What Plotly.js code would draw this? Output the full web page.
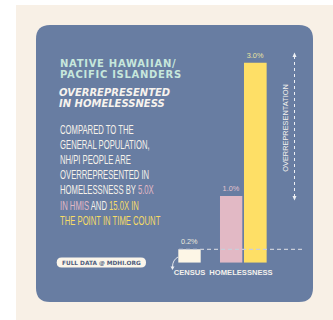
<!DOCTYPE html>
<html><head><meta charset="utf-8">
<script src="https://cdn.plot.ly/plotly-3.0.1.min.js"></script>
<style>html,body{margin:0;padding:0;background:#fff;}#chart{width:333px;height:320px;}</style>
</head><body><div id="chart"></div>
<script>
// ---- data ----
const categories = ["CENSUS", "HOMELESSNESS"];
const censusPct = [0.2];
const hmisPct = [1.0];
const pitPct = [3.0];
const titleLines = ["NATIVE HAWAIIAN/", "PACIFIC ISLANDERS"];
const subtitleLines = ["OVERREPRESENTED", "IN HOMELESSNESS"];
const bodyLines = [
  "COMPARED TO THE",
  "GENERAL POPULATION,",
  "NH/PI PEOPLE ARE",
  "OVERREPRESENTED IN",
  "HOMELESSNESS BY <span style='color:#e2b9c6'>5.0X</span>",
  "<span style='color:#e2b9c6'>IN HMIS</span> AND <span style='color:#f6dc66'>15.0X IN</span>",
  "<span style='color:#f6dc66'>THE POINT IN TIME COUNT</span>"
];
const sourceText = "FULL DATA @ MDHI.ORG";
const sideLabel = "OVERREPRESENTATION";

// ---- helpers ----
const W = 333, H = 320;
const px = x => x / W;
const py = y => 1 - y / H;
function roundRect(x0, y0, x1, y1, r) {
  return `M ${px(x0 + r)} ${py(y0)} L ${px(x1 - r)} ${py(y0)} Q ${px(x1)} ${py(y0)} ${px(x1)} ${py(y0 + r)} ` +
    `L ${px(x1)} ${py(y1 - r)} Q ${px(x1)} ${py(y1)} ${px(x1 - r)} ${py(y1)} ` +
    `L ${px(x0 + r)} ${py(y1)} Q ${px(x0)} ${py(y1)} ${px(x0)} ${py(y1 - r)} ` +
    `L ${px(x0)} ${py(y0 + r)} Q ${px(x0)} ${py(y0)} ${px(x0 + r)} ${py(y0)} Z`;
}

const barBase = {type: 'bar', hoverinfo: 'skip', textposition: 'outside', cliponaxis: false,
  texttemplate: '%{y:.1f}%', marker: {line: {width: 0}}};
const traces = [
  Object.assign({}, barBase, {name: 'Census', x: [categories[0]], y: censusPct, offset: -0.2175, width: 0.435,
    marker: {color: '#fdf6e6'}, textfont: {family: 'Liberation Sans', size: 7.3, color: '#ebe9df'}}),
  Object.assign({}, barBase, {name: 'HMIS', x: [categories[1]], y: hmisPct, offset: -0.408, width: 0.433,
    marker: {color: '#e2b9c5'}, textfont: {family: 'Liberation Sans', size: 7.3, color: '#e4c3cd'}}),
  Object.assign({}, barBase, {name: 'Point in Time', x: [categories[1]], y: pitPct, offset: 0.058, width: 0.44,
    marker: {color: '#fedf66'}, textfont: {family: 'Liberation Sans', size: 7.3, color: '#e9e3a0'}})
];

const annotations = [];
const titleIdx = [], bodyIdx = [];
const titleY = [63, 74.8];
titleLines.forEach((t, i) => { titleIdx.push(annotations.length); annotations.push({xref: 'paper', yref: 'paper', x: px(57.5), y: py(titleY[i]),
  xanchor: 'left', yanchor: 'middle', showarrow: false, text: t,
  font: {family: 'DejaVu Sans', size: 10, weight: 'bold', color: '#c6e7dc'}}); });
const subY = [92, 103.3];
subtitleLines.forEach((t, i) => annotations.push({xref: 'paper', yref: 'paper', x: px(57), y: py(subY[i]),
  xanchor: 'left', yanchor: 'middle', showarrow: false, text: t,
  font: {family: 'DejaVu Sans', size: 10, weight: 'bold', style: 'italic', color: '#f7f3ee'}}));
bodyLines.forEach((t, i) => { bodyIdx.push(annotations.length); annotations.push({xref: 'paper', yref: 'paper', x: px(57.5), y: py(129.8 + i * 15.15),
  xanchor: 'left', yanchor: 'middle', showarrow: false, text: t,
  font: {family: 'Liberation Sans', size: 12, color: '#f6f2ea'}}); });
annotations.push({xref: 'paper', yref: 'paper', x: px(101.5), y: py(262.5), xanchor: 'center', yanchor: 'middle',
  showarrow: false, text: sourceText, font: {family: 'DejaVu Sans', size: 5.8, weight: 'bold', color: '#4d5c7c'}});
annotations.push({xref: 'paper', yref: 'paper', x: px(285.3), y: py(127.5), xanchor: 'center', yanchor: 'middle',
  showarrow: false, textangle: -90, text: sideLabel, font: {family: 'Liberation Sans', size: 7.4, color: '#f4f2ee'}});

const shapes = [
  {type: 'rect', xref: 'paper', yref: 'paper', x0: px(16), x1: 1, y0: 0, y1: py(5), fillcolor: '#f8f0e6', line: {width: 0}, layer: 'below'},
  {type: 'path', xref: 'paper', yref: 'paper', path: roundRect(36, 25, 313, 302, 14), fillcolor: '#687da2', line: {width: 0}, layer: 'below'},
  {type: 'path', xref: 'paper', yref: 'paper', path: roundRect(56.7, 257.5, 146, 267.5, 5), fillcolor: '#fbf5ea', line: {width: 0}, layer: 'below'},
  // reference line at census level
  {type: 'line', xref: 'paper', yref: 'y', x0: px(179), x1: px(305), y0: censusPct[0], y1: censusPct[0],
    line: {color: '#c9ced9', width: 1.3, dash: '4px,3px'}, layer: 'above'},
  // vertical dotted arrow
  {type: 'line', xref: 'paper', yref: 'paper', x0: px(294.5), x1: px(294.5), y0: py(56), y1: py(197),
    line: {color: '#eef0f4', width: 1, dash: 'dot'}},
  {type: 'path', xref: 'paper', yref: 'paper', path: `M ${px(294.5)} ${py(52.5)} L ${px(296.5)} ${py(57)} L ${px(292.5)} ${py(57)} Z`,
    fillcolor: '#eef0f4', line: {width: 0}},
  {type: 'path', xref: 'paper', yref: 'paper', path: `M ${px(294.5)} ${py(200.5)} L ${px(296.5)} ${py(196)} L ${px(292.5)} ${py(196)} Z`,
    fillcolor: '#eef0f4', line: {width: 0}},
  // curved arrow to CENSUS label
  {type: 'path', xref: 'paper', yref: 'paper', path: `M ${px(178)} ${py(257)} Q ${px(172.5)} ${py(260)} ${px(172.5)} ${py(267)}`,
    line: {color: '#eef0f4', width: 0.9}},
  {type: 'path', xref: 'paper', yref: 'paper', path: `M ${px(172.5)} ${py(270)} L ${px(174.5)} ${py(266.5)} L ${px(170.5)} ${py(266.5)} Z`,
    fillcolor: '#eef0f4', line: {width: 0}}
];

const layout = {
  width: W, height: H, margin: {l: 0, r: 0, t: 0, b: 0},
  paper_bgcolor: '#ffffff', plot_bgcolor: 'rgba(0,0,0,0)',
  showlegend: false, barmode: 'overlay',
  xaxis: {domain: [px(160), px(320)], range: [-0.5728, 2.534], type: 'category', categoryarray: categories,
    showgrid: false, zeroline: false, showline: false, ticks: '', fixedrange: true, ticklabelstandoff: 4,
    tickfont: {family: 'Liberation Sans', size: 7.6, weight: 'bold', color: '#f2f0ec'}},
  yaxis: {domain: [py(262.7), py(30)], range: [0, 3.4905], visible: false, fixedrange: true},
  annotations: annotations, shapes: shapes
};
Plotly.newPlot('chart', traces, layout, {displayModeBar: false, staticPlot: true}).then(gd => {
  // condensed body type and tracked title type (styling only)
  const condense = 0.64;
  gd.querySelectorAll('g.annotation').forEach(g => {
    const idx = +g.getAttribute('data-index');
    const t = g.querySelector('text.annotation-text');
    if (!t) return;
    if (bodyIdx.includes(idx)) {
      const L = t.getBBox().x;
      t.setAttribute('transform', `translate(${L},0) scale(${condense},1) translate(${-L},0)`);
    } else if (titleIdx.includes(idx)) {
      const L0 = t.getBBox().x;
      t.style.letterSpacing = '0.7px';
      const L1 = t.getBBox().x;
      t.setAttribute('transform', `translate(${L0 - L1},0)`);
    }
  });
});
</script></body></html>
